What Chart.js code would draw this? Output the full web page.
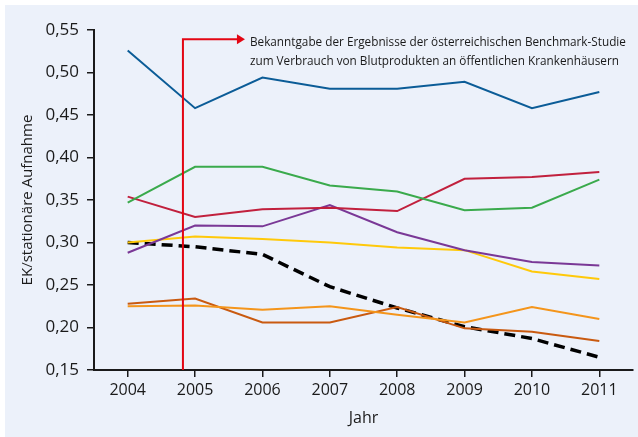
<!DOCTYPE html>
<html>
<head>
<meta charset="utf-8">
<script src="https://cdn.jsdelivr.net/npm/chart.js@4/dist/chart.umd.min.js"></script>
<style>
  html, body { margin: 0; padding: 0; background: #fff; }
  #wrap { position: relative; width: 638px; height: 437px; }
</style>
</head>
<body>
<div id="wrap"><canvas id="chart" width="638" height="437"></canvas></div>
<script>
const years = ["2004", "2005", "2006", "2007", "2008", "2009", "2010", "2011"];

const blueValues = [0.526, 0.458, 0.494, 0.481, 0.481, 0.489, 0.458, 0.477];
const greenValues = [0.347, 0.389, 0.389, 0.367, 0.360, 0.338, 0.341, 0.374];
const redValues = [0.354, 0.330, 0.339, 0.341, 0.337, 0.375, 0.377, 0.383];
const purpleValues = [0.288, 0.320, 0.319, 0.344, 0.312, 0.291, 0.277, 0.273];
const yellowValues = [0.300, 0.307, 0.304, 0.300, 0.294, 0.291, 0.266, 0.257];
const meanValues = [0.300, 0.295, 0.286, 0.248, 0.223, 0.201, 0.187, 0.165];
const brownValues = [0.228, 0.234, 0.206, 0.206, 0.224, 0.199, 0.195, 0.184];
const orangeValues = [0.225, 0.226, 0.221, 0.225, 0.215, 0.206, 0.224, 0.210];

const yTicks = [0.15, 0.20, 0.25, 0.30, 0.35, 0.40, 0.45, 0.50, 0.55];

// Bekanntgabe der Studie: zwischen 2004 und 2005
const markerIndex = 0.82;
const markerTop = 0.539;
const noteLines = [
  "Bekanntgabe der Ergebnisse der österreichischen Benchmark-Studie",
  "zum Verbrauch von Blutprodukten an öffentlichen Krankenhäusern"
];

const font = "'Open Sans', sans-serif";

function line(data, color, extra) {
  return Object.assign({
    data: data,
    borderColor: color,
    borderWidth: 2,
    pointRadius: 0,
    tension: 0,
    fill: false
  }, extra || {});
}

const bgPlugin = {
  id: "bg",
  beforeDraw(chart) {
    const ctx = chart.ctx;
    ctx.save();
    ctx.fillStyle = "#ECF1FA";
    ctx.fillRect(5, 5, chart.width - 5, chart.height - 5);
    ctx.restore();
  }
};

const markerPlugin = {
  id: "marker",
  afterDatasetsDraw(chart) {
    const ctx = chart.ctx;
    const x = chart.scales.x.getPixelForValue(markerIndex);
    const top = chart.scales.y.getPixelForValue(markerTop);
    const bottom = chart.chartArea.bottom;
    ctx.save();
    ctx.strokeStyle = "#E30613";
    ctx.fillStyle = "#E30613";
    ctx.lineWidth = 2;
    ctx.beginPath();
    ctx.moveTo(x, bottom);
    ctx.lineTo(x, top);
    ctx.lineTo(x + 55, top);
    ctx.stroke();
    ctx.beginPath();
    ctx.moveTo(x + 54, top - 5);
    ctx.lineTo(x + 62, top);
    ctx.lineTo(x + 54, top + 5);
    ctx.closePath();
    ctx.fill();

    // Hinweistext, schmal gesetzt wie im Original
    ctx.fillStyle = "#1a1a1a";
    ctx.font = "13px " + font;
    ctx.textBaseline = "middle";
    const tx = x + 67;
    const w = ctx.measureText(noteLines[0]).width;
    const sx = 376 / w;
    noteLines.forEach((t, i) => {
      ctx.save();
      ctx.translate(tx, top + 3 + i * 19);
      ctx.scale(sx, 1);
      ctx.fillText(t, 0, 0);
      ctx.restore();
    });
    ctx.restore();
  }
};

new Chart(document.getElementById("chart"), {
  type: "line",
  data: {
    labels: years,
    datasets: [
      line(blueValues, "#0B5C97"),
      line(greenValues, "#3AAA4C"),
      line(redValues, "#C1203D"),
      line(purpleValues, "#7A3896"),
      line(yellowValues, "#FFC90A"),
      line(orangeValues, "#F4951B"),
      line(brownValues, "#C95A10"),
      line(meanValues, "#000000", { borderWidth: 3.5, borderDash: [11, 6] })
    ]
  },
  options: {
    responsive: false,
    animation: false,
    layout: { padding: { top: 30, right: 5, left: 0, bottom: 0 } },
    plugins: {
      legend: { display: false },
      tooltip: { enabled: false }
    },
    scales: {
      x: {
        type: "category",
        offset: true,
        grid: {
          display: true,
          drawOnChartArea: false,
          drawTicks: true,
          tickLength: 7,
          color: "#1a1a1a",
          lineWidth: 1.5
        },
        border: { color: "#1a1a1a", width: 2 },
        ticks: {
          color: "#1a1a1a",
          font: { family: font, size: 16 },
          padding: 4,
          maxRotation: 0
        },
        title: {
          display: true,
          text: "Jahr",
          color: "#1a1a1a",
          font: { family: font, size: 16 },
          padding: { top: 2, bottom: 9 }
        },
        afterFit(scale) { scale.height = 67; }
      },
      y: {
        min: 0.15,
        max: 0.55,
        afterBuildTicks(scale) {
          scale.ticks = yTicks.map(v => ({ value: v }));
        },
        grid: {
          display: true,
          drawOnChartArea: false,
          drawTicks: true,
          tickLength: 7,
          color: "#1a1a1a",
          lineWidth: 1.5
        },
        border: { color: "#1a1a1a", width: 2 },
        ticks: {
          color: "#1a1a1a",
          font: { family: font, size: 17 },
          padding: 8,
          callback: v => v.toFixed(2).replace(".", ",")
        },
        title: {
          display: true,
          text: "EK/stationäre Aufnahme",
          color: "#1a1a1a",
          font: { family: font, size: 15 },
          padding: { top: 19, bottom: 0 }
        },
        afterFit(scale) { scale.width = 94; }
      }
    }
  },
  plugins: [bgPlugin, markerPlugin]
});
</script>
</body>
</html>
